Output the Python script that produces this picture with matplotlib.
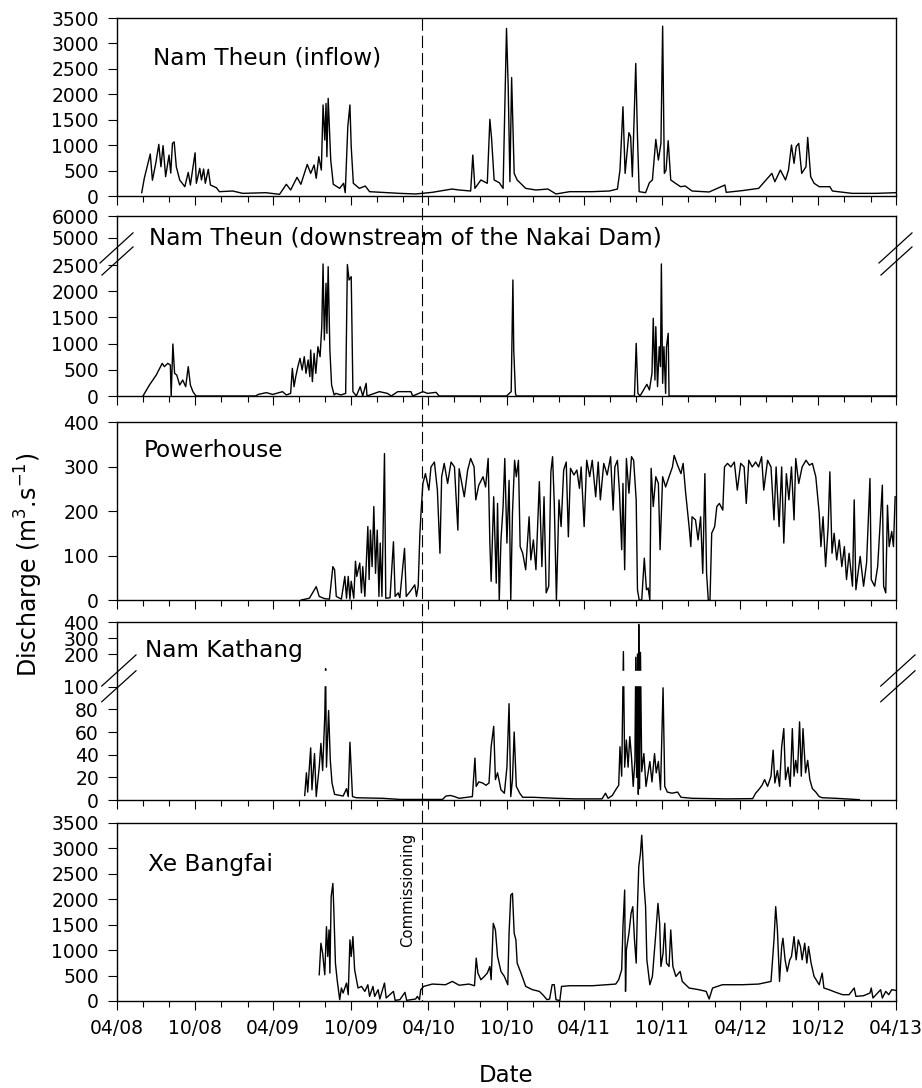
import numpy as np
import pandas as pd
import matplotlib
matplotlib.use("Agg")
import matplotlib.pyplot as plt
import matplotlib.dates as mdates
from matplotlib.lines import Line2D
from matplotlib import transforms

plt.rcParams['font.family'] = ['DejaVu Sans']
plt.rcParams['mathtext.fontset'] = 'dejavusans'

# ---------------- data ----------------
inflow_dates = ['2008-05-29', '2008-06-04', '2008-06-18', '2008-06-23', '2008-07-01', '2008-07-08', '2008-07-13',
                '2008-07-18', '2008-07-24', '2008-08-01', '2008-08-05', '2008-08-09', '2008-08-13', '2008-08-18',
                '2008-08-26', '2008-09-07', '2008-09-15', '2008-09-20', '2008-10-01', '2008-10-04', '2008-10-12',
                '2008-10-16', '2008-10-21', '2008-10-25', '2008-11-01', '2008-11-06', '2008-11-20', '2008-11-27',
                '2008-12-28', '2009-01-21', '2009-03-16', '2009-04-17', '2009-05-03', '2009-05-13', '2009-05-28',
                '2009-06-06', '2009-06-21', '2009-06-29', '2009-07-07', '2009-07-12', '2009-07-18', '2009-07-24',
                '2009-07-28', '2009-08-01', '2009-08-04', '2009-08-06', '2009-08-09', '2009-08-15', '2009-08-21',
                '2009-09-05', '2009-09-14', '2009-09-18', '2009-09-24', '2009-09-29', '2009-10-02', '2009-10-07',
                '2009-10-21', '2009-11-04', '2009-11-14', '2010-01-23', '2010-03-02', '2010-04-10', '2010-05-26',
                '2010-06-12', '2010-07-09', '2010-07-14', '2010-07-19', '2010-08-02', '2010-08-17', '2010-08-23',
                '2010-08-27', '2010-09-02', '2010-09-14', '2010-09-23', '2010-10-01', '2010-10-05', '2010-10-09',
                '2010-10-13', '2010-10-19', '2010-10-26', '2010-11-15', '2010-12-09', '2011-01-06', '2011-01-25',
                '2011-02-26', '2011-04-19', '2011-05-30', '2011-06-18', '2011-06-24', '2011-07-01', '2011-07-06',
                '2011-07-15', '2011-07-19', '2011-07-23', '2011-07-31', '2011-08-04', '2011-08-08', '2011-08-23',
                '2011-09-01', '2011-09-08', '2011-09-16', '2011-09-22', '2011-09-28', '2011-10-02', '2011-10-06',
                '2011-10-10', '2011-10-15', '2011-10-21', '2011-11-01', '2011-11-13', '2011-11-24', '2011-12-10',
                '2012-01-19', '2012-02-25', '2012-02-28', '2012-04-05', '2012-05-14', '2012-06-14', '2012-06-21',
                '2012-07-04', '2012-07-16', '2012-07-23', '2012-07-30', '2012-08-05', '2012-08-10', '2012-08-16',
                '2012-08-23', '2012-09-02', '2012-09-06', '2012-09-13', '2012-09-21', '2012-10-03', '2012-10-28',
                '2012-11-03', '2012-12-19', '2013-02-13', '2013-03-31']
inflow_values = [65, 350, 825, 310, 650, 1015, 575, 990, 380, 805, 450, 1035, 1065, 575,
                 315, 183, 465, 216, 850, 250, 545, 315, 530, 250, 525, 216, 163, 85,
                 98, 52, 65, 33, 230, 118, 367, 230, 622, 445, 610, 348, 773, 510,
                 1790, 1100, 1820, 772, 1920, 707, 230, 150, 250, 65, 1360, 1790, 970, 250,
                 150, 196, 85, 52, 40, 72, 137, 118, 98, 805, 150, 315, 250, 1507,
                 1133, 315, 262, 150, 3295, 2147, 281, 2330, 445, 315, 150, 118, 137, 40,
                 85, 85, 98, 137, 510, 1755, 445, 1245, 1165, 380, 2607, 1165, 85, 65,
                 262, 315, 1113, 707, 1035, 3340, 445, 510, 1087, 315, 250, 183, 196, 98,
                 79, 216, 72, 105, 150, 445, 281, 510, 315, 510, 1002, 642, 970, 1035,
                 445, 575, 1152, 380, 250, 183, 183, 98, 52, 52, 65]

downstream_dates = ['2008-06-01', '2008-06-16', '2008-06-24', '2008-07-02', '2008-07-10', '2008-07-16', '2008-07-21',
                    '2008-07-29', '2008-08-04', '2008-08-06', '2008-08-10', '2008-08-14', '2008-08-19', '2008-08-26',
                    '2008-09-02', '2008-09-09', '2008-09-15', '2008-09-20', '2008-09-26', '2008-10-03', '2009-02-20',
                    '2009-02-26', '2009-03-17', '2009-04-01', '2009-04-24', '2009-05-03', '2009-05-13', '2009-05-17',
                    '2009-05-21', '2009-05-25', '2009-05-30', '2009-06-04', '2009-06-09', '2009-06-14', '2009-06-18',
                    '2009-06-23', '2009-06-27', '2009-06-29', '2009-07-03', '2009-07-07', '2009-07-11', '2009-07-16',
                    '2009-07-21', '2009-07-25', '2009-07-28', '2009-07-31', '2009-08-04', '2009-08-06', '2009-08-09',
                    '2009-08-13', '2009-08-17', '2009-08-23', '2009-08-27', '2009-09-08', '2009-09-19', '2009-09-23',
                    '2009-09-27', '2009-10-02', '2009-10-06', '2009-10-14', '2009-10-23', '2009-10-29', '2009-11-06',
                    '2009-11-08', '2009-12-07', '2009-12-26', '2010-01-04', '2010-01-19', '2010-02-19', '2010-02-23',
                    '2010-03-19', '2010-03-30', '2010-04-19', '2010-04-26', '2010-10-01', '2010-10-12', '2010-10-16',
                    '2010-10-18', '2010-10-22', '2010-10-24', '2011-07-28', '2011-08-01', '2011-08-05', '2011-08-10',
                    '2011-08-26', '2011-09-01', '2011-09-07', '2011-09-10', '2011-09-14', '2011-09-16', '2011-09-20',
                    '2011-09-24', '2011-09-27', '2011-09-29', '2011-10-02', '2011-10-05', '2011-10-09', '2011-10-11',
                    '2011-10-15', '2011-10-17', '2013-03-31']
downstream_values = [0, 210, 305, 400, 528, 623, 560, 623, 592, 0, 992, 433, 400, 210,
                     305, 178, 560, 210, 83, 0, 0, 30, 64, 30, 83, 20, 50, 528,
                     178, 370, 560, 719, 496, 750, 433, 687, 370, 878, 273, 814, 433, 941,
                     750, 1323, 2595, 1069, 2150, 1196, 2468, 878, 210, 20, 50, 20, 50, 2545,
                     2214, 2277, 83, 0, 178, 0, 242, 0, 83, 50, 0, 83, 83, 0,
                     83, 50, 70, 0, 0, 83, 2214, 878, 50, 0, 0, 1005, 50, 0,
                     223, 115, 433, 1483, 305, 1323, 178, 941, 560, 2595, 242, 941, 50, 941,
                     1196, 0, 0]

power_dates = ['2009-06-07', '2009-06-26', '2009-07-12', '2009-07-19', '2009-08-01', '2009-08-12', '2009-08-20',
               '2009-08-24', '2009-08-28', '2009-09-09', '2009-09-17', '2009-09-21', '2009-09-25', '2009-09-29',
               '2009-10-02', '2009-10-08', '2009-10-12', '2009-10-15', '2009-10-22', '2009-10-26', '2009-10-29',
               '2009-11-03', '2009-11-07', '2009-11-10', '2009-11-13', '2009-11-16', '2009-11-20', '2009-11-24',
               '2009-11-28', '2009-12-02', '2009-12-06', '2009-12-09', '2009-12-13', '2009-12-19', '2009-12-22',
               '2010-01-01', '2010-01-09', '2010-01-13', '2010-01-20', '2010-01-24', '2010-02-04', '2010-02-08',
               '2010-02-17', '2010-02-28', '2010-03-04', '2010-03-08', '2010-03-12', '2010-03-15', '2010-03-19',
               '2010-03-25', '2010-04-02', '2010-04-07', '2010-04-15', '2010-04-22', '2010-04-28', '2010-05-02',
               '2010-05-08', '2010-05-16', '2010-05-24', '2010-06-01', '2010-06-09', '2010-06-12', '2010-06-24',
               '2010-07-02', '2010-07-09', '2010-07-17', '2010-07-21', '2010-07-28', '2010-08-07', '2010-08-13',
               '2010-08-19', '2010-08-23', '2010-08-26', '2010-09-01', '2010-09-07', '2010-09-10', '2010-09-14',
               '2010-09-18', '2010-09-23', '2010-09-27', '2010-10-02', '2010-10-07', '2010-10-11', '2010-10-15',
               '2010-10-20', '2010-10-24', '2010-10-29', '2010-11-02', '2010-11-08', '2010-11-15', '2010-11-23',
               '2010-11-27', '2010-12-03', '2010-12-09', '2010-12-17', '2010-12-23', '2010-12-28', '2011-01-02',
               '2011-01-08', '2011-01-13', '2011-01-17', '2011-01-21', '2011-01-26', '2011-02-01', '2011-02-06',
               '2011-02-12', '2011-02-18', '2011-02-23', '2011-02-28', '2011-03-08', '2011-03-15', '2011-03-21',
               '2011-03-25', '2011-04-01', '2011-04-07', '2011-04-14', '2011-04-20', '2011-04-28', '2011-05-04',
               '2011-05-09', '2011-05-17', '2011-05-25', '2011-06-02', '2011-06-08', '2011-06-12', '2011-06-18',
               '2011-06-23', '2011-06-28', '2011-07-01', '2011-07-05', '2011-07-09', '2011-07-15', '2011-07-21',
               '2011-07-26', '2011-08-01', '2011-08-04', '2011-08-08', '2011-08-14', '2011-08-20', '2011-08-25',
               '2011-08-29', '2011-09-02', '2011-09-05', '2011-09-10', '2011-09-16', '2011-09-22', '2011-09-26',
               '2011-10-02', '2011-10-09', '2011-10-17', '2011-10-25', '2011-10-29', '2011-11-06', '2011-11-14',
               '2011-11-19', '2011-11-25', '2011-12-03', '2011-12-07', '2011-12-10', '2011-12-18', '2011-12-24',
               '2011-12-30', '2012-01-04', '2012-01-09', '2012-01-13', '2012-01-17', '2012-01-21', '2012-01-25',
               '2012-02-01', '2012-02-06', '2012-02-12', '2012-02-20', '2012-02-24', '2012-03-02', '2012-03-10',
               '2012-03-18', '2012-03-25', '2012-04-02', '2012-04-10', '2012-04-15', '2012-04-21', '2012-04-29',
               '2012-05-07', '2012-05-14', '2012-05-21', '2012-05-26', '2012-06-04', '2012-06-12', '2012-06-19',
               '2012-06-24', '2012-07-01', '2012-07-07', '2012-07-12', '2012-07-18', '2012-07-24', '2012-07-30',
               '2012-08-05', '2012-08-09', '2012-08-16', '2012-08-24', '2012-09-02', '2012-09-10', '2012-09-17',
               '2012-09-25', '2012-10-03', '2012-10-07', '2012-10-12', '2012-10-18', '2012-10-24', '2012-10-28',
               '2012-11-02', '2012-11-07', '2012-11-13', '2012-11-19', '2012-11-25', '2012-12-01', '2012-12-06',
               '2012-12-12', '2012-12-20', '2012-12-24', '2012-12-28', '2013-01-07', '2013-01-15', '2013-01-22',
               '2013-01-30', '2013-02-02', '2013-02-10', '2013-02-17', '2013-02-28', '2013-03-03', '2013-03-08',
               '2013-03-12', '2013-03-16', '2013-03-22', '2013-03-26', '2013-03-30']
power_values = [0, 4, 30, 8, 3, 2, 75, 68, 8, 2, 53, 4, 53, 2,
                42, 4, 87, 53, 83, 16, 75, 8, 101, 165, 46, 157, 75, 210,
                60, 157, 8, 128, 8, 329, 4, 5, 131, 8, 16, 5, 116, 8,
                19, 34, 8, 31, 150, 202, 262, 284, 247, 299, 310, 247, 105, 277,
                307, 262, 310, 299, 157, 295, 232, 292, 318, 299, 225, 258, 277, 254,
                318, 128, 42, 232, 38, 217, 0, 135, 210, 318, 128, 269, 0, 195,
                314, 277, 314, 120, 105, 68, 187, 90, 135, 68, 266, 75, 232, 16,
                31, 288, 322, 217, 0, 225, 165, 292, 310, 142, 296, 281, 292, 251,
                299, 165, 314, 277, 314, 232, 310, 225, 307, 281, 322, 202, 299, 314,
                240, 113, 262, 68, 318, 240, 322, 314, 225, 23, 0, 0, 94, 23,
                27, 0, 296, 210, 277, 262, 113, 277, 254, 277, 299, 325, 303, 284,
                307, 240, 165, 120, 187, 180, 135, 187, 60, 284, 60, 0, 0, 150,
                165, 210, 217, 202, 299, 307, 299, 310, 247, 307, 299, 217, 314, 299,
                310, 299, 322, 247, 314, 299, 180, 299, 165, 299, 128, 284, 225, 299,
                180, 318, 262, 299, 314, 303, 307, 277, 195, 120, 187, 75, 165, 288,
                105, 150, 90, 135, 75, 120, 46, 105, 31, 225, 23, 98, 31, 83,
                273, 46, 31, 75, 258, 31, 16, 213, 120, 154, 120, 232]

kathang_dates = ['2009-06-15', '2009-06-19', '2009-06-22', '2009-06-29', '2009-07-02', '2009-07-08', '2009-07-12',
                 '2009-07-16', '2009-07-19', '2009-07-23', '2009-07-27', '2009-08-01', '2009-08-03', '2009-08-05',
                 '2009-08-10', '2009-08-14', '2009-08-18', '2009-08-24', '2009-09-13', '2009-09-21', '2009-09-25',
                 '2009-09-29', '2009-10-05', '2009-10-14', '2009-12-15', '2010-01-24', '2010-05-04', '2010-05-12',
                 '2010-05-23', '2010-06-01', '2010-06-12', '2010-07-13', '2010-07-19', '2010-07-22', '2010-07-28',
                 '2010-08-06', '2010-08-14', '2010-08-21', '2010-08-26', '2010-09-01', '2010-09-05', '2010-09-10',
                 '2010-09-18', '2010-09-26', '2010-10-02', '2010-10-07', '2010-10-11', '2010-10-15', '2010-10-19',
                 '2010-10-24', '2010-11-01', '2010-11-08', '2010-12-02', '2011-01-25', '2011-03-12', '2011-05-13',
                 '2011-05-21', '2011-05-27', '2011-06-06', '2011-06-14', '2011-06-21', '2011-06-24', '2011-06-28',
                 '2011-07-02', '2011-07-05', '2011-07-09', '2011-07-13', '2011-07-17', '2011-07-21', '2011-07-25',
                 '2011-07-29', '2011-07-31', '2011-08-02', '2011-08-04', '2011-08-06', '2011-08-07', '2011-08-09',
                 '2011-08-11', '2011-08-14', '2011-08-19', '2011-08-24', '2011-09-02', '2011-09-07', '2011-09-13',
                 '2011-09-17', '2011-09-22', '2011-09-27', '2011-10-03', '2011-10-07', '2011-10-13', '2011-10-24',
                 '2011-11-06', '2011-11-14', '2011-12-10', '2012-02-27', '2012-04-30', '2012-05-07', '2012-05-14',
                 '2012-05-22', '2012-05-28', '2012-06-04', '2012-06-12', '2012-06-17', '2012-06-21', '2012-06-27',
                 '2012-07-02', '2012-07-07', '2012-07-12', '2012-07-16', '2012-07-22', '2012-07-27', '2012-08-01',
                 '2012-08-05', '2012-08-09', '2012-08-13', '2012-08-18', '2012-08-22', '2012-08-26', '2012-09-01',
                 '2012-09-06', '2012-09-11', '2012-09-17', '2012-09-25', '2012-10-03', '2012-10-10', '2012-11-11',
                 '2013-01-05']
kathang_values = [4, 24, 7, 46, 9, 41, 3, 18, 29, 50, 26, 74, 155, 29,
                  79, 35, 15, 5, 3.5, 10, 3, 51, 3, 2, 1.5, 0.5, 0.5, 3.5,
                  4, 3, 1.5, 3, 37, 12, 16, 15, 13, 15, 47, 65, 18, 24,
                  9, 6, 29, 85, 3, 18, 60, 12, 6, 2.4, 2.4, 1.5, 1, 1,
                  6, 1.5, 4, 9, 13, 47, 21, 215, 29, 53, 29, 56, 38, 12,
                  35, 190, 20, 200, 5, 385, 10, 210, 25, 41, 12, 34, 16, 41,
                  24, 34, 9, 99, 12, 7, 6, 7, 2.4, 1.5, 1, 1.2, 6, 9,
                  13, 18, 12, 21, 44, 15, 26, 12, 47, 63, 18, 29, 12, 63,
                  21, 35, 24, 69, 21, 63, 24, 35, 18, 10, 7, 3, 2, 1.5,
                  0.3]

xebangfai_dates = ['2009-07-19', '2009-07-23', '2009-07-27', '2009-08-01', '2009-08-05', '2009-08-08', '2009-08-11',
                   '2009-08-13', '2009-08-16', '2009-08-20', '2009-08-22', '2009-08-26', '2009-08-30', '2009-09-05',
                   '2009-09-09', '2009-09-13', '2009-09-21', '2009-09-25', '2009-09-29', '2009-10-02', '2009-10-06',
                   '2009-10-10', '2009-10-18', '2009-10-26', '2009-11-03', '2009-11-10', '2009-11-14', '2009-11-22',
                   '2009-11-26', '2009-12-04', '2009-12-08', '2009-12-19', '2009-12-23', '2010-01-09', '2010-01-13',
                   '2010-01-24', '2010-02-05', '2010-02-09', '2010-03-02', '2010-03-06', '2010-03-11', '2010-03-14',
                   '2010-03-21', '2010-04-10', '2010-05-11', '2010-05-27', '2010-06-12', '2010-07-05', '2010-07-18',
                   '2010-07-22', '2010-07-26', '2010-08-02', '2010-08-10', '2010-08-17', '2010-08-23', '2010-08-26',
                   '2010-08-31', '2010-09-05', '2010-09-10', '2010-09-18', '2010-09-26', '2010-10-04', '2010-10-07',
                   '2010-10-11', '2010-10-15', '2010-10-19', '2010-10-23', '2010-10-26', '2010-11-04', '2010-11-15',
                   '2010-12-01', '2010-12-17', '2010-12-25', '2011-01-04', '2011-01-10', '2011-01-16', '2011-01-21',
                   '2011-01-25', '2011-02-03', '2011-02-07', '2011-02-26', '2011-04-20', '2011-06-14', '2011-06-21',
                   '2011-06-28', '2011-07-01', '2011-07-05', '2011-07-07', '2011-07-09', '2011-07-15', '2011-07-20',
                   '2011-07-24', '2011-07-28', '2011-08-01', '2011-08-04', '2011-08-07', '2011-08-11', '2011-08-14',
                   '2011-08-16', '2011-08-19', '2011-08-23', '2011-08-26', '2011-09-02', '2011-09-08', '2011-09-16',
                   '2011-09-21', '2011-09-25', '2011-09-28', '2011-10-03', '2011-10-07', '2011-10-11', '2011-10-17',
                   '2011-10-21', '2011-10-26', '2011-11-02', '2011-11-12', '2011-11-17', '2011-12-03', '2011-12-26',
                   '2012-01-12', '2012-01-19', '2012-01-27', '2012-02-19', '2012-04-06', '2012-05-14', '2012-06-12',
                   '2012-06-19', '2012-06-23', '2012-06-27', '2012-07-02', '2012-07-07', '2012-07-10', '2012-07-15',
                   '2012-07-20', '2012-07-26', '2012-07-30', '2012-08-05', '2012-08-10', '2012-08-15', '2012-08-20',
                   '2012-08-24', '2012-08-30', '2012-09-04', '2012-09-08', '2012-09-14', '2012-09-21', '2012-10-03',
                   '2012-10-10', '2012-10-14', '2012-10-26', '2012-11-11', '2012-11-27', '2012-12-12', '2012-12-24',
                   '2012-12-28', '2013-01-15', '2013-01-30', '2013-02-02', '2013-02-06', '2013-02-24', '2013-02-28',
                   '2013-03-08', '2013-03-15', '2013-03-22', '2013-03-31']
xebangfai_values = [516, 1136, 940, 516, 1463, 875, 1398, 549, 2051, 2312, 1855, 745, 418, 26,
                    255, 157, 353, 124, 1202, 875, 1267, 614, 255, 287, 189, 320, 91, 287,
                    91, 222, 39, 353, 59, 189, 13, 26, 170, 13, 39, 91, 26, 222,
                    287, 333, 320, 385, 310, 333, 300, 843, 549, 418, 483, 549, 679, 418,
                    1528, 1398, 875, 581, 483, 320, 1332, 2084, 2116, 1332, 1202, 745, 549, 287,
                    222, 189, 124, 26, 39, 320, 320, 26, 7, 287, 300, 300, 333, 418,
                    614, 1463, 2182, 189, 1006, 1332, 1724, 1855, 1202, 745, 1855, 2639, 2900, 3259,
                    2933, 2312, 1855, 810, 320, 483, 1332, 1920, 1528, 679, 940, 1528, 745, 679,
                    1398, 679, 483, 581, 385, 255, 222, 189, 39, 255, 320, 320, 333, 385,
                    1202, 1855, 1398, 385, 1071, 1234, 810, 581, 810, 875, 1267, 810, 1202, 1071,
                    810, 1136, 745, 1071, 745, 483, 320, 549, 255, 222, 170, 124, 124, 255,
                    91, 104, 157, 255, 59, 222, 59, 189, 124, 222, 209]

panel_titles = ['Nam Theun (inflow)', 'Nam Theun (downstream of the Nakai Dam)',
                'Powerhouse', 'Nam Kathang', 'Xe Bangfai']
yticks_inflow = [0, 500, 1000, 1500, 2000, 2500, 3000, 3500]
yticks_downstream = [0, 500, 1000, 1500, 2000, 2500, 5000, 6000]
yticks_power = [0, 100, 200, 300, 400]
yticks_kathang = [0, 20, 40, 60, 80, 100, 200, 300, 400]
yticks_xebangfai = [0, 500, 1000, 1500, 2000, 2500, 3000, 3500]
commissioning_date = '2010-03-16'
x_start, x_end = '2008-04-01', '2013-04-01'

# ---------------- helpers ----------------
def piecewise_scale(dk, pk):
    dk = np.asarray(dk, float)
    pk = np.asarray(pk, float)

    def _map(v, a, b):
        v = np.asarray(v, float)
        out = np.interp(v, a, b)
        lo_s = (b[1] - b[0]) / (a[1] - a[0])
        hi_s = (b[-1] - b[-2]) / (a[-1] - a[-2])
        out = np.where(v < a[0], b[0] + (v - a[0]) * lo_s, out)
        out = np.where(v > a[-1], b[-1] + (v - a[-1]) * hi_s, out)
        return out

    return (lambda v: _map(v, dk, pk)), (lambda v: _map(v, pk, dk))


W, H = 922, 1088
fig = plt.figure(figsize=(W / 100, H / 100), dpi=100)

left_px, right_px = 117, 896
panel_px = [(18, 196), (216, 396), (422, 600), (622, 800), (823, 1001)]
axes = []
for top, bot in panel_px:
    ax = fig.add_axes([left_px / W, 1 - bot / H, (right_px - left_px) / W, (bot - top) / H])
    axes.append(ax)

series = [(inflow_dates, inflow_values), (downstream_dates, downstream_values),
          (power_dates, power_values), (kathang_dates, kathang_values),
          (xebangfai_dates, xebangfai_values)]
yticks_all = [yticks_inflow, yticks_downstream, yticks_power, yticks_kathang, yticks_xebangfai]
title_pos = [(0.046, 0.736), (0.041, 0.839), (0.034, 0.802), (0.036, 0.802), (0.040, 0.732)]

# custom broken scales
f2, i2 = piecewise_scale([0, 2500, 5000, 6000], [0, 131, 158.3, 180])
axes[1].set_yscale('function', functions=(f2, i2))
f4, i4 = piecewise_scale([0, 100, 200, 400], [0, 113.3, 146, 178])
axes[3].set_yscale('function', functions=(f4, i4))

x0, x1 = pd.Timestamp(x_start), pd.Timestamp(x_end)
for k, ax in enumerate(axes):
    d, v = series[k]
    ax.plot(pd.to_datetime(d), v, color='black', lw=1.0, zorder=2)
    yt = yticks_all[k]
    ax.set_ylim(yt[0], yt[-1])
    ax.set_yticks(yt)
    ax.set_xlim(x0, x1)
    ax.xaxis.set_major_locator(mdates.MonthLocator(bymonth=[4, 10]))
    ax.xaxis.set_minor_locator(mdates.MonthLocator(bymonth=[2, 6, 8, 12]))
    ax.xaxis.set_major_formatter(mdates.DateFormatter('%m/%y'))
    ax.tick_params(axis='both', which='major', direction='out', length=6.5, width=0.8,
                   labelsize=13.5, pad=6.5)
    ax.tick_params(axis='x', which='minor', direction='out', length=4, width=0.8)
    ax.tick_params(axis='y', which='minor', left=False)
    for s in ax.spines.values():
        s.set_linewidth(1.0)
    if k < 4:
        ax.tick_params(axis='x', which='both', labelbottom=False)
    ax.text(title_pos[k][0], title_pos[k][1], panel_titles[k], transform=ax.transAxes,
            fontsize=16.7, ha='left', va='baseline')

# hide the broken interval of the Nam Kathang panel
axes[3].axhspan(104, 148, color='white', zorder=2.2)

# break marks
def break_marks(ax, pairs):
    for (xa, ya), (xb, yb) in pairs:
        for dx in (0.0, 1.0):
            ax.add_line(Line2D([xa + dx, xb + dx], [ya, yb], transform=ax.transAxes,
                               color='black', lw=0.9, clip_on=False, zorder=5))

break_marks(axes[1], [((-0.0218, 0.739), (0.0205, 0.906)), ((-0.0193, 0.672), (0.0205, 0.828))])
break_marks(axes[3], [((-0.0196, 0.640), (0.0244, 0.815)), ((-0.0196, 0.552), (0.0244, 0.726))])

# commissioning line across all panels
cdate = mdates.date2num(pd.Timestamp(commissioning_date))
trans = transforms.blended_transform_factory(axes[4].transData, fig.transFigure)
fig.add_artist(Line2D([cdate, cdate], [1 - 18 / H, 1 - 1001 / H], transform=trans,
                      color='black', lw=0.8, dashes=(11, 4.5)))
off = transforms.offset_copy(axes[4].transData, fig=fig, x=-6, y=0, units='dots')
axes[4].text(cdate, 3300, 'Commissioning', transform=off, rotation=90, fontsize=10.7,
             ha='right', va='top')

fig.text(506.5 / W, 1 - 1076 / H, 'Date', fontsize=16.5, ha='center', va='center')
fig.text(29 / W, 1 - 565 / H, 'Discharge (m$^{3}$.s$^{-1}$)', fontsize=17, rotation=90,
         ha='center', va='center')

fig.savefig('out.png', dpi=100)
